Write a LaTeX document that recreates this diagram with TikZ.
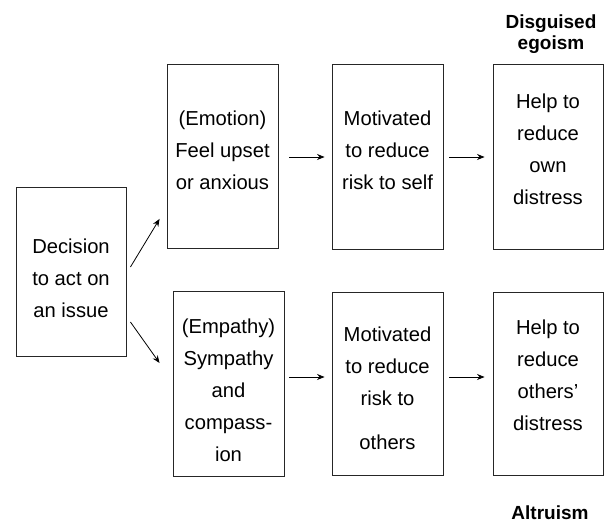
\documentclass[tikz,border=0pt]{standalone}
\usepackage{fontspec}
\setmainfont{Liberation Sans}
\usetikzlibrary{arrows.meta}

\begin{document}
\begin{tikzpicture}[x=1pt, y=-1pt, stage/.style={rectangle, draw=black!85, line width=0.9pt, inner sep=0pt}, words/.style={align=center, font=\fontsize{20.2}{32}\selectfont}, heading/.style={align=center, font=\bfseries\fontsize{19}{21}\selectfont}, arrow/.style={line width=0.8pt, ->, >={Stealth[length=7.5pt, width=6pt]}}]
\useasboundingbox (0,0) rectangle (614,523);
\node [stage, minimum width=110pt, minimum height=169pt] (decision) at (71,271.5) {};
\node [stage, minimum width=111pt, minimum height=184pt] (emotion) at (222.5,156.5) {};
\node [stage, minimum width=111pt, minimum height=185pt] (selfrisk) at (387.5,156.5) {};
\node [stage, minimum width=110pt, minimum height=185pt] (ownhelp) at (548,156.5) {};
\node [stage, minimum width=111pt, minimum height=185pt] (empathy) at (228.5,383.5) {};
\node [stage, minimum width=111pt, minimum height=183pt] (othersrisk) at (387.5,383.5) {};
\node [stage, minimum width=110pt, minimum height=183pt] (othershelp) at (548,383.5) {};
\node [words] (decisiontext) at (71,278.5) {Decision\\to act on\\an issue};
\node [words] (emotiontext) at (222.5,150.5) {(Emotion)\\Feel upset\\or anxious};
\node [words] (selfrisktext) at (387.5,150.5) {Motivated\\to reduce\\risk to self};
\node [words] (ownhelptext) at (548,149) {Help to\\reduce\\own\\distress};
\node [words] (empathytext) at (228.5,390.5) {(Empathy)\\Sympathy\\and\\compass-\\ion};
\node [words] (othersrisktext) at (387.5,388) {Motivated\\to reduce\\risk to\\[12pt]others};
\node [words] (othershelptext) at (548,375) {Help to\\reduce\\others'\\distress};
\node [heading] (egoism) at (551,34.5) {Disguised\\egoism};
\node [heading] (altruism) at (550,512.5) {Altruism};
\draw [arrow] ([shift={(4pt,4.5pt)}]decision.east) -- ([shift={(-7pt,30pt)}]emotion.south west);
\draw [arrow] ([shift={(4pt,-50.5pt)}]decision.east) -- ([shift={(-13pt,20.5pt)}]empathy.west);
\draw [arrow] ([shift={(11pt,-0.5pt)}]emotion.east) -- ([shift={(-7pt,-0.5pt)}]selfrisk.west);
\draw [arrow] ([shift={(6pt,-0.5pt)}]selfrisk.east) -- ([shift={(-8pt,-0.5pt)}]ownhelp.west);
\draw [arrow] ([shift={(5pt,6.5pt)}]empathy.east) -- ([shift={(-7pt,6.5pt)}]othersrisk.west);
\draw [arrow] ([shift={(6pt,6.5pt)}]othersrisk.east) -- ([shift={(-8pt,6.5pt)}]othershelp.west);
\end{tikzpicture}
\end{document}
